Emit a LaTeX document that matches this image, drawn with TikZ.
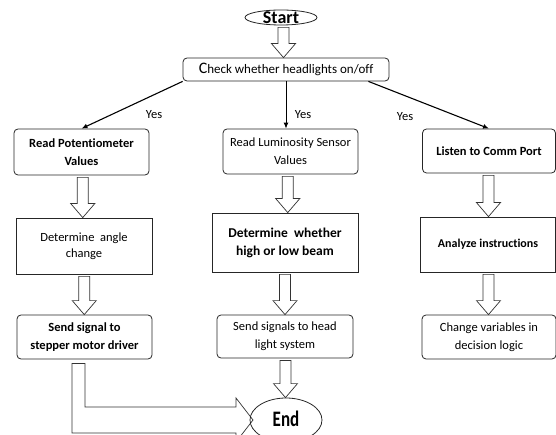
\documentclass[tikz,border=0pt]{standalone}
\usepackage{fontspec}
\setmainfont{Carlito}[Ligatures={NoCommon}]
\usetikzlibrary{calc,arrows.meta,shapes.geometric}
\newcommand\blockdown[2]{%
  \draw[blk] let \p1=(#1.south), \p2=(#2.north), \p3=($(#1.south)!0.5!(#2.north)$) in
    (\x3-5.5pt,\y1-2pt) -- (\x3-5.5pt,\y2+14pt) -- (\x3-12pt,\y2+14pt) -- (\x3,\y2)
    -- (\x3+12pt,\y2+14pt) -- (\x3+5.5pt,\y2+14pt) -- (\x3+5.5pt,\y1-2pt) -- cycle;}
\begin{document}
\begin{tikzpicture}[x=1pt,y=-1pt,
  rbox/.style={draw=black!85, line width=0.8pt, rounded corners=4pt, align=center, inner sep=2pt},
  sbox/.style={draw=black!85, line width=0.8pt, align=center, inner sep=2pt},
  sz/.style 2 args={minimum width=#1pt, minimum height=#2pt},
  tn/.style={font=\fontsize{12.5}{18}\selectfont},
  tb/.style={font=\fontsize{12.5}{18}\selectfont\bfseries},
  blk/.style={draw=black!80, line width=0.7pt, fill=white},
  thinarr/.style={draw=black, line width=1.1pt, -{Latex[length=6pt,width=5pt]}},
  yes/.style={font=\fontsize{12.5}{14}\selectfont, inner sep=0pt},
  oval/.style={draw=black!85, line width=0.8pt, ellipse, inner sep=0pt}]
\useasboundingbox (0,0) rectangle (556,435);
% start / end ovals
\node[oval, sz={72}{15}] (start) at (281,17.5) {};
\node[anchor=base, inner sep=0pt, font=\fontsize{18}{18}\selectfont\bfseries] (starttxt) at ($(start.center)+(0,6.5)$) {Start};
% check box
\node[rbox, sz={206}{23}, font=\fontsize{13}{15}\selectfont] (check) at (286,69.5) {{\fontsize{16}{16}\selectfont C}heck whether headlights on/off};
% row 1
\node[rbox, sz={135}{46}, tb] (r1a) at (81.5,152) {Read Potentiometer\\Values};
\node[rbox, sz={135}{45}, tn] (r1b) at (290.5,151.5) {Read Luminosity Sensor\\Values};
\node[rbox, sz={133}{44}, tb] (r1c) at (489,151) {Listen to Comm Port};
% row 2
\node[sbox, sz={136}{56}, font=\fontsize{12.5}{16}\selectfont] (r2a) at (84,246) {Determine\ \ angle\\change};
\node[sbox, sz={146}{59}, font=\fontsize{13.5}{18}\selectfont\bfseries] (r2b) at (285,242.5) {Determine\ \ whether\\high or low beam};
\node[sbox, sz={135}{55}, font=\fontsize{12}{16}\selectfont\bfseries] (r2c) at (488,244.5) {Analyze instructions};
% row 3
\node[rbox, sz={135}{44}, tb] (r3a) at (84.5,337) {Send signal to\\stepper motor driver};
\node[rbox, sz={136}{43}, tn] (r3b) at (285,336.5) {Send signals to head\\light system};
\node[rbox, sz={134}{44}, tn] (r3c) at (489,337) {Change variables in\\decision logic};
% end
\draw[blk] let \p1=(r3a.south), \p2=(286-34,420) in
  (\x1-12.5pt,\y1-4pt) -- (\x1-12.5pt,\y2-13pt) -- (\x2-16pt,\y2-13pt) -- (\x2-16pt,\y2-22pt)
  -- (\x2+1pt,\y2) -- (\x2-16pt,\y2+22pt) -- (\x2-16pt,\y2+13pt) -- (\x1+0.5pt,\y2+13pt)
  -- (\x1+0.5pt,\y1-4pt) -- cycle;
\node[oval, sz={72}{44}] (end) at (286,420) {};
\node[anchor=base, inner sep=0pt, font=\fontsize{17}{17}\selectfont\bfseries] (endtxt) at (286,426) {\scalebox{1}[1.3]{End}};
% block arrows
\blockdown{start}{check}
\blockdown{r1a}{r2a}
\blockdown{r1b}{r2b}
\blockdown{r1c}{r2c}
\blockdown{r2a}{r3a}
\blockdown{r2b}{r3b}
\blockdown{r2c}{r3c}
\blockdown{r3b}{end}
% thin arrows
\draw[thinarr] (check.south west) -- (r1a.north);
\draw[thinarr, line width=0.9pt] (check.south) -- (check.south |- r1b.north);
\draw[thinarr] ($(check.south east)+(-21,0)$) -- (r1c.north);
% yes labels
\node[yes] (y1) at (154,115) {Yes};
\node[yes] (y2) at (303,115) {Yes};
\node[yes] (y3) at (405,117) {Yes};
\end{tikzpicture}
\end{document}
